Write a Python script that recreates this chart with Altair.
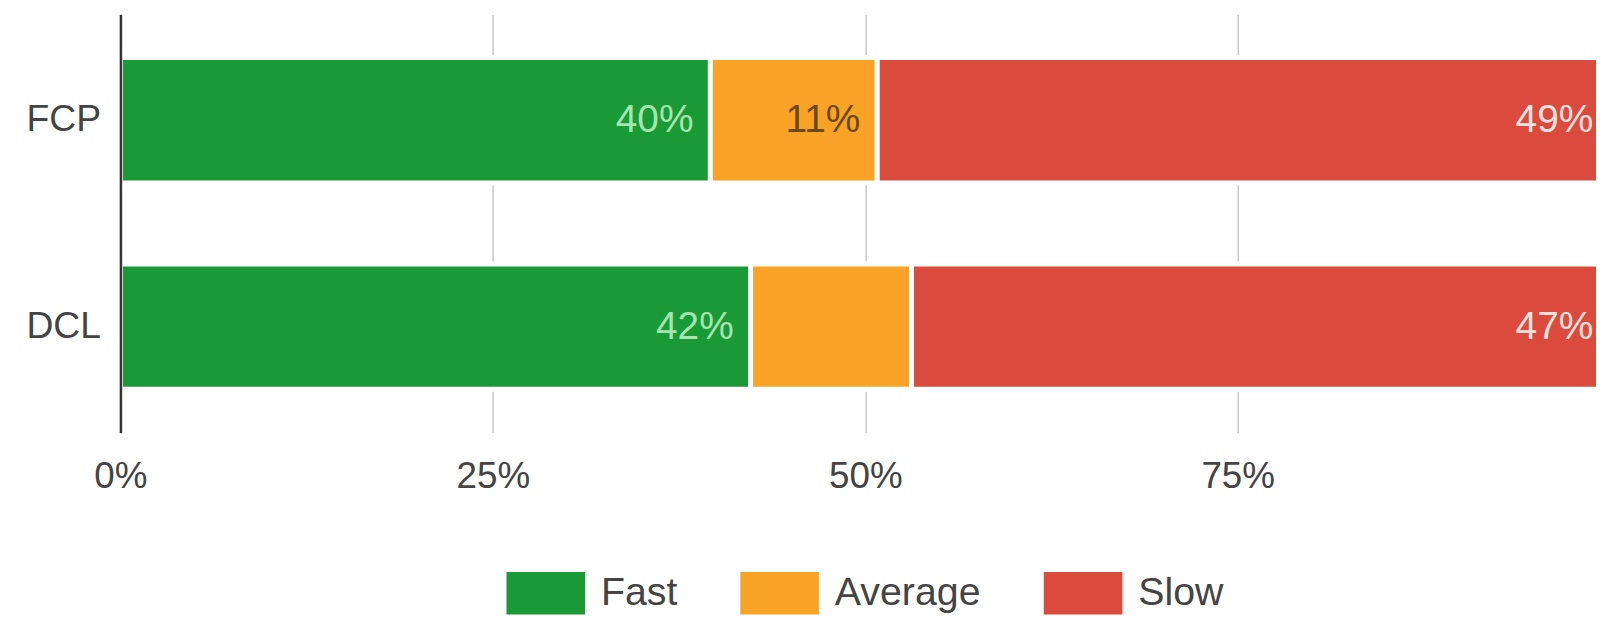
import altair as alt
import pandas as pd

metrics = ["FCP", "FCP", "FCP", "DCL", "DCL", "DCL"]
categories = ["Fast", "Average", "Slow", "Fast", "Average", "Slow"]
order_idx = [0, 1, 2, 0, 1, 2]
values = [0.396, 0.112, 0.492, 0.423, 0.108, 0.469]
labels = ["40%", "11%", "49%", "42%", "", "47%"]

cat_domain = ["Fast", "Average", "Slow"]
bar_colors = ["#1a9a36", "#f8a325", "#da4b3d"]
label_colors = ["#a6e6ae", "#6e4812", "#fbe1dd"]
x_ticks = [0, 0.25, 0.5, 0.75, 1.0]

df = pd.DataFrame({
    "metric": metrics,
    "category": categories,
    "idx": order_idx,
    "value": values,
    "label": labels,
})

FONT = "Liberation Sans"

x_scale = alt.Scale(domain=[0, 0.9905], nice=False, zero=True)
y_scale = alt.Scale(domain=["FCP", "DCL"], paddingInner=0.393, paddingOuter=0.2085)

x_axis = alt.Axis(
    values=x_ticks,
    format="%",
    title=None,
    domain=False,
    ticks=False,
    grid=True,
    gridColor="#c8c8c8",
    gridWidth=1.5,
    labelFont=FONT,
    labelFontSize=37,
    labelColor="#444444",
    labelPadding=26,
    labelBaseline="top",
    labelFlush=False,
)
y_axis = alt.Axis(
    title=None,
    ticks=False,
    grid=False,
    domainColor="#333333",
    domainWidth=2.5,
    labelFont=FONT,
    labelFontSize=37.5,
    labelColor="#444444",
    labelPadding=20,
    zindex=1,
)

base = alt.Chart(df).transform_stack(
    stack="value",
    groupby=["metric"],
    as_=["v0", "v1"],
    sort=[alt.SortField("idx", order="ascending")],
)

bars = base.mark_bar(stroke="white", strokeWidth=5, clip=True).encode(
    x=alt.X("v0:Q", scale=x_scale, axis=x_axis),
    x2="v1:Q",
    y=alt.Y("metric:N", scale=y_scale, axis=y_axis),
    color=alt.Color(
        "category:N",
        scale=alt.Scale(domain=cat_domain, range=bar_colors),
        legend=alt.Legend(
            title=None,
            orient="none",
            direction="horizontal",
            legendX=388,
            legendY=542,
            symbolType="M-1,-0.54H1V0.54H-1Z",
            symbolSize=6241,
            symbolStrokeWidth=0,
            symbolOpacity=1,
            labelFont=FONT,
            labelFontSize=39.5,
            labelColor="#444444",
            labelOffset=16,
            columnPadding=63,
        ),
    ),
)

texts = base.mark_text(
    align="right", baseline="middle", dx=-17, font=FONT, fontSize=39, clip=True
).encode(
    x=alt.X("v1:Q", scale=x_scale, axis=x_axis),
    y=alt.Y("metric:N", scale=y_scale, axis=y_axis),
    text="label:N",
    color=alt.Color(
        "category:N",
        scale=alt.Scale(domain=cat_domain, range=label_colors),
        legend=None,
    ),
)

chart = (
    alt.layer(bars, texts)
    .resolve_scale(color="independent")
    .properties(
        width=1483,
        height=420,
        autosize=alt.AutoSizeParams(type="none"),
        padding={"left": 113, "top": 5, "right": 0, "bottom": 184},
    )
    .configure_view(strokeWidth=0)
)

chart.save("out.html", embed_options={"renderer": "svg", "actions": False})
